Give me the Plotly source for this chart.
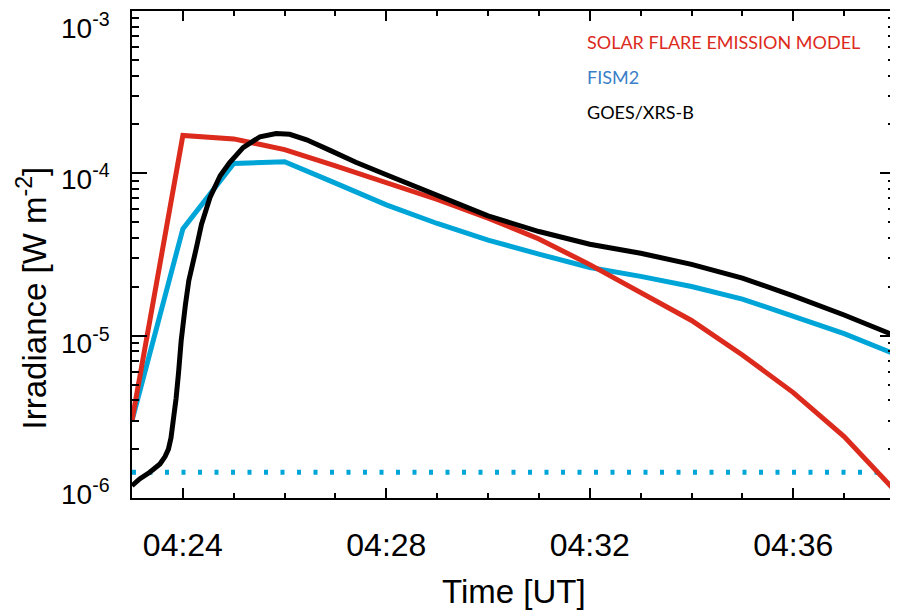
import plotly.graph_objects as go

DAY = "2000-01-01 "

# Minute-resolution model series (04:23 .. 04:38)
minute_times = ["04:23", "04:24", "04:25", "04:26", "04:27", "04:28", "04:29", "04:30",
                "04:31", "04:32", "04:33", "04:34", "04:35", "04:36", "04:37", "04:38"]
sfem_model = [3.0e-6, 1.71e-4, 1.63e-4, 1.40e-4, 1.11e-4, 8.8e-5, 6.9e-5, 5.3e-5,
              3.94e-5, 2.74e-5, 1.85e-5, 1.24e-5, 7.6e-6, 4.46e-6, 2.39e-6, 1.11e-6]
fism2 = [3.0e-6, 4.55e-5, 1.15e-4, 1.18e-4, 8.7e-5, 6.4e-5, 4.91e-5, 3.88e-5,
         3.18e-5, 2.63e-5, 2.32e-5, 2.01e-5, 1.68e-5, 1.31e-5, 1.03e-5, 7.7e-6]

# GOES/XRS-B observation
goes_times = ["04:23:00", "04:23:09", "04:23:21", "04:23:33", "04:23:39", "04:23:43",
              "04:23:46", "04:23:49", "04:23:52", "04:23:55", "04:23:58", "04:24:03",
              "04:24:07", "04:24:16", "04:24:22", "04:24:32", "04:24:44", "04:24:55",
              "04:25:11", "04:25:31", "04:25:50", "04:26:06", "04:26:26", "04:26:53",
              "04:27:24", "04:28:00", "04:28:30", "04:29:00", "04:30:00", "04:31:00",
              "04:32:00", "04:33:00", "04:34:00", "04:35:00", "04:36:00", "04:37:00",
              "04:38:00"]
goes_xrsb = [1.19e-6, 1.31e-6, 1.44e-6, 1.62e-6, 1.80e-6, 2.00e-6,
             2.35e-6, 3.0e-6, 4.1e-6, 6.0e-6, 9.3e-6, 1.55e-5,
             2.18e-5, 3.49e-5, 4.86e-5, 7.1e-5, 9.66e-5, 1.16e-4,
             1.44e-4, 1.68e-4, 1.76e-4, 1.74e-4, 1.61e-4, 1.39e-4,
             1.17e-4, 9.8e-5, 8.5e-5, 7.3e-5, 5.47e-5, 4.38e-5,
             3.66e-5, 3.22e-5, 2.75e-5, 2.26e-5, 1.76e-5, 1.34e-5,
             1.0e-5]

# FISM2 pre-flare background level
fism2_background = 1.44e-6
background_times = ["04:23", "04:38"]

x_range = ["04:23", "04:38"]
x_tick_start = "04:24"
y_range_exp = [-6, -3]
y_tick_exp = [-6, -5, -4, -3]
y_tick_text = ["10<sup>-6</sup>", "10<sup>-5</sup>", "10<sup>-4</sup>", "10<sup>-3</sup>"]
y_label_nudge = [6, -5, -4, -15]   # label offsets (px) as drawn in the original

RED = "#dc2a1c"
CYAN = "#00a5d8"
BLUE_TXT = "#3a7fc8"
HELV = "Liberation Sans, Arial, Helvetica"

fig = go.Figure()
fig.add_trace(go.Scatter(x=[DAY + t for t in background_times],
                         y=[fism2_background] * len(background_times),
                         mode="lines", line=dict(color=CYAN, width=5, dash="4px,12.5px"),
                         showlegend=False))
fig.add_trace(go.Scatter(x=[DAY + t for t in minute_times], y=fism2, mode="lines",
                         line=dict(color=CYAN, width=5), showlegend=False))
fig.add_trace(go.Scatter(x=[DAY + t for t in minute_times], y=sfem_model, mode="lines",
                         line=dict(color=RED, width=5), showlegend=False))
fig.add_trace(go.Scatter(x=[DAY + t for t in goes_times], y=goes_xrsb, mode="lines",
                         line=dict(color="black", width=5), showlegend=False))

minor_y = [m * 10 ** e for e in range(y_range_exp[0], y_range_exp[1]) for m in range(2, 10)]

fig.update_xaxes(
    type="date", range=[DAY + x_range[0], DAY + x_range[1]],
    tick0=DAY + x_tick_start, dtick=240000, tickformat="%H:%M",
    ticks="inside", ticklen=10, tickwidth=2, tickcolor="black",
    minor=dict(dtick=60000, ticks="inside", ticklen=5, tickwidth=2, tickcolor="black"),
    showline=True, linewidth=2, linecolor="black", mirror="ticks",
    showgrid=False, zeroline=False,
    tickfont=dict(family=HELV, size=32, color="black"),
    ticklabelstandoff=18,
)
fig.update_yaxes(
    type="log", range=y_range_exp,
    tickvals=[10 ** e for e in y_tick_exp],
    ticks="inside", ticklen=15, tickwidth=2, tickcolor="black",
    minor=dict(tickvals=minor_y, ticks="inside", ticklen=7, tickwidth=2, tickcolor="black"),
    showline=True, linewidth=2, linecolor="black", mirror="ticks",
    showgrid=False, zeroline=False, showticklabels=False,
)

for e, txt, nudge in zip(y_tick_exp, y_tick_text, y_label_nudge):
    fig.add_annotation(text=txt, xref="paper", yref="y", x=0, y=e,
                       xanchor="right", yanchor="middle", xshift=-20, yshift=nudge,
                       showarrow=False, font=dict(family=HELV, size=28, color="black"))

ann_font = dict(family="Lato", size=18)
fig.add_annotation(text="SOLAR FLARE EMISSION MODEL", xref="paper", yref="paper",
                   x=0.594, y=0.936, xanchor="left", yanchor="middle", showarrow=False,
                   font=dict(color=RED, **ann_font))
fig.add_annotation(text="FISM2", xref="paper", yref="paper",
                   x=0.594, y=0.864, xanchor="left", yanchor="middle", showarrow=False,
                   font=dict(color=BLUE_TXT, **ann_font))
fig.add_annotation(text="GOES/XRS-B", xref="paper", yref="paper",
                   x=0.594, y=0.792, xanchor="left", yanchor="middle", showarrow=False,
                   font=dict(color="black", **ann_font))
fig.add_annotation(text="Time [UT]", xref="paper", yref="paper",
                   x=0.5, y=-0.193, xanchor="center", yanchor="middle", showarrow=False,
                   font=dict(family=HELV, size=33, color="black"))
fig.add_annotation(text="Irradiance [W m<sup>-2</sup>]", xref="paper", yref="paper",
                   x=-0.131, y=0.41, xanchor="center", yanchor="middle", showarrow=False,
                   textangle=-90,
                   font=dict(family=HELV, size=33, color="black"))

# page body adds an 8px margin, so the figure is sized to fit the 898x612 window
fig.update_layout(
    width=890, height=604,
    margin=dict(l=124, r=1, t=2, b=114),
    plot_bgcolor="white", paper_bgcolor="white",
    showlegend=False,
)
fig.write_html("out.html")
